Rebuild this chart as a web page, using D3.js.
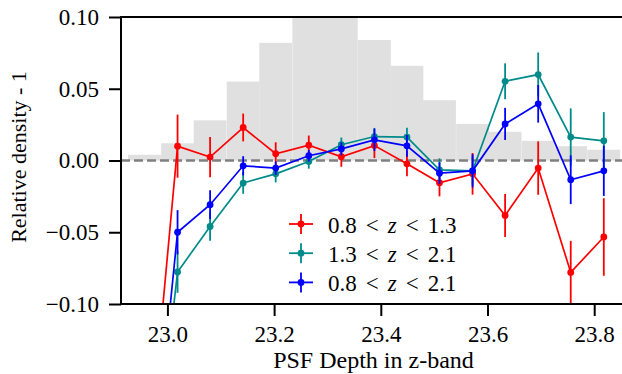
<!DOCTYPE html>
<html lang="en">
<head>
    <meta charset="UTF-8">
    <script src="https://cdn.jsdelivr.net/npm/d3@7"></script>
    <title>Relative density vs PSF depth</title>
    <style>
        body { margin: 0; background: #fff; }
    </style>
</head>
<body>
</body>
<script>

    // bin centres (PSF depth, z-band)
    const depth = [22.957, 23.019, 23.080, 23.142, 23.203, 23.265, 23.326, 23.388,
        23.449, 23.510, 23.572, 23.633, 23.695, 23.756, 23.818];
    const binWidth = 0.0615;

    // background histogram (arbitrary counts)
    const histCounts = [40, 120, 280, 550, 820, 1150, 1100, 840, 660, 420, 255, 200, 137, 100, 75];

    const red = [-0.24, 0.010, 0.0024, 0.023, 0.0047, 0.0107, 0.0026, 0.0104,
        -0.0023, -0.0155, -0.0093, -0.0383, -0.0053, -0.078, -0.0533];
    const redErr = [0.03, 0.022, 0.014, 0.0097, 0.008, 0.0067, 0.007, 0.0087,
        0.0087, 0.0095, 0.0145, 0.015, 0.0186, 0.022, 0.027];

    const teal = [-0.28, -0.0777, -0.046, -0.0157, -0.0093, -0.0007, 0.011, 0.0167,
        0.0163, -0.0065, -0.0072, 0.0552, 0.0599, 0.0163, 0.0137];
    const tealErr = [0.03, 0.0145, 0.01, 0.0075, 0.006, 0.005, 0.005, 0.006,
        0.0066, 0.008, 0.0098, 0.0125, 0.0154, 0.020, 0.020];

    const blue = [-0.28, -0.050, -0.0308, -0.0037, -0.0053, 0.0033, 0.0081, 0.0144,
        0.0102, -0.0088, -0.0072, 0.0255, 0.0395, -0.0134, -0.0072];
    const blueErr = [0.03, 0.0154, 0.01, 0.0067, 0.0047, 0.004, 0.0045, 0.0078,
        0.0075, 0.0075, 0.0116, 0.0112, 0.0131, 0.017, 0.0175];

    // legend labels: [zmin, zmax]
    const zRanges = [["0.8", "1.3"], ["1.3", "2.1"], ["0.8", "2.1"]];
    const xTicks = [23.0, 23.2, 23.4, 23.6, 23.8];
    const yTicks = [-0.10, -0.05, 0.00, 0.05, 0.10];

    const serif = "'Liberation Serif'";

    let width = 622,
        height = 374,
        mLeft = 121,
        mTop = 17,
        mBottom = 304,
        mRight = 626;

    let x = d3.scaleLinear()
            .domain([22.913, 23.8596])
            .range([mLeft, mRight]),
        y = d3.scaleLinear()
            .domain([-0.10, 0.10])
            .range([mBottom, mTop]),
        hy = d3.scaleLinear()
            .domain([0, 1000])
            .range([y(0), y(0.1)]);

    let svg = d3.select("body")
        .append("svg")
        .attr("width", width)
        .attr("height", height);

    svg.append("defs").append("clipPath")
        .attr("id", "plot")
        .append("rect")
        .attr("x", mLeft)
        .attr("y", mTop)
        .attr("width", mRight - mLeft)
        .attr("height", mBottom - mTop);

    let plot = svg.append("g").attr("clip-path", "url(#plot)");

    // histogram
    plot.selectAll("rect.hist")
        .data(histCounts)
        .enter()
        .append("rect")
        .attr("class", "hist")
        .attr("x", (d, i) => x(depth[i] - binWidth / 2))
        .attr("width", (d, i) => x(depth[i] + binWidth / 2) - x(depth[i] - binWidth / 2))
        .attr("y", d => hy(d))
        .attr("height", d => hy(0) - hy(d))
        .style("fill", "#e0e0e0");

    // zero line
    plot.append("line")
        .attr("x1", mLeft)
        .attr("x2", mRight)
        .attr("y1", y(0))
        .attr("y2", y(0))
        .attr("stroke", "#808080")
        .attr("stroke-width", 2.5)
        .attr("stroke-dasharray", "9,4");

    let series = [
        {z: zRanges[0], color: "#ff0000", values: red, errs: redErr},
        {z: zRanges[1], color: "#008b8b", values: teal, errs: tealErr},
        {z: zRanges[2], color: "#0000ff", values: blue, errs: blueErr}
    ];

    let line = d3.line()
        .x(d => x(d.x))
        .y(d => y(d.y));

    series.forEach(function (s) {
        let pts = depth.map((d, i) => ({x: d, y: s.values[i], e: s.errs[i]}));
        let g = plot.append("g");

        g.append("path")
            .attr("d", line(pts))
            .attr("fill", "none")
            .attr("stroke", s.color)
            .attr("stroke-width", 1.7);

        g.selectAll("line.err")
            .data(pts)
            .enter()
            .append("line")
            .attr("class", "err")
            .attr("x1", d => x(d.x))
            .attr("x2", d => x(d.x))
            .attr("y1", d => y(d.y - d.e))
            .attr("y2", d => y(d.y + d.e))
            .attr("stroke", s.color)
            .attr("stroke-width", 1.8);

        g.selectAll("circle")
            .data(pts)
            .enter()
            .append("circle")
            .attr("cx", d => x(d.x))
            .attr("cy", d => y(d.y))
            .attr("r", 3.4)
            .attr("fill", s.color);
    });

    // frame (left, bottom, top; right edge falls outside the picture)
    svg.append("rect")
        .attr("x", mLeft)
        .attr("y", mTop)
        .attr("width", mRight - mLeft + 10)
        .attr("height", mBottom - mTop)
        .attr("fill", "none")
        .attr("stroke", "#000")
        .attr("stroke-width", 2);

    // axes
    let xAxis = svg.append("g")
        .attr("transform", `translate(0,${mBottom})`)
        .call(d3.axisBottom(x).tickValues(xTicks).tickFormat(d3.format(".1f"))
            .tickSize(12).tickPadding(10));
    let yAxis = svg.append("g")
        .attr("transform", `translate(${mLeft},0)`)
        .call(d3.axisLeft(y).tickValues(yTicks).tickFormat(d3.format(".2f"))
            .tickSize(12).tickPadding(10));

    [xAxis, yAxis].forEach(function (a) {
        a.attr("font-family", null).attr("font-size", null);
        a.select(".domain").remove();
        a.selectAll(".tick line").attr("stroke", "#000").attr("stroke-width", 2);
        a.selectAll(".tick text")
            .attr("style", `font-family:${serif};font-size:23px`);
    });

    svg.append("text")
        .attr("x", (mLeft + mRight) / 2)
        .attr("y", 368)
        .attr("text-anchor", "middle")
        .attr("style", `font-family:${serif};font-size:24px`)
        .text("PSF Depth in z-band");

    svg.append("text")
        .attr("transform", "translate(26,157) rotate(-90)")
        .attr("text-anchor", "middle")
        .attr("style", `font-family:${serif};font-size:22px`)
        .text("Relative density - 1");

    // legend
    let legend = svg.append("g").attr("transform", "translate(289,224)");
    series.forEach(function (s, i) {
        let row = legend.append("g").attr("transform", `translate(0,${i * 29.2})`);
        row.append("line")
            .attr("x1", 0).attr("x2", 24)
            .attr("stroke", s.color).attr("stroke-width", 1.8);
        row.append("line")
            .attr("x1", 12).attr("x2", 12)
            .attr("y1", -10).attr("y2", 10)
            .attr("stroke", s.color).attr("stroke-width", 1.8);
        row.append("circle")
            .attr("cx", 12).attr("r", 3.4)
            .attr("fill", s.color);
        let t = row.append("text")
            .attr("x", 39)
            .attr("y", 9)
            .attr("style", `font-family:${serif};font-size:23px`);
        t.append("tspan").text(s.z[0]);
        t.append("tspan").attr("dx", 9).text("<");
        t.append("tspan").attr("dx", 9).style("font-style", "italic").text("z");
        t.append("tspan").attr("dx", 9).text("<");
        t.append("tspan").attr("dx", 9).text(s.z[1]);
    });

</script>
</html>
